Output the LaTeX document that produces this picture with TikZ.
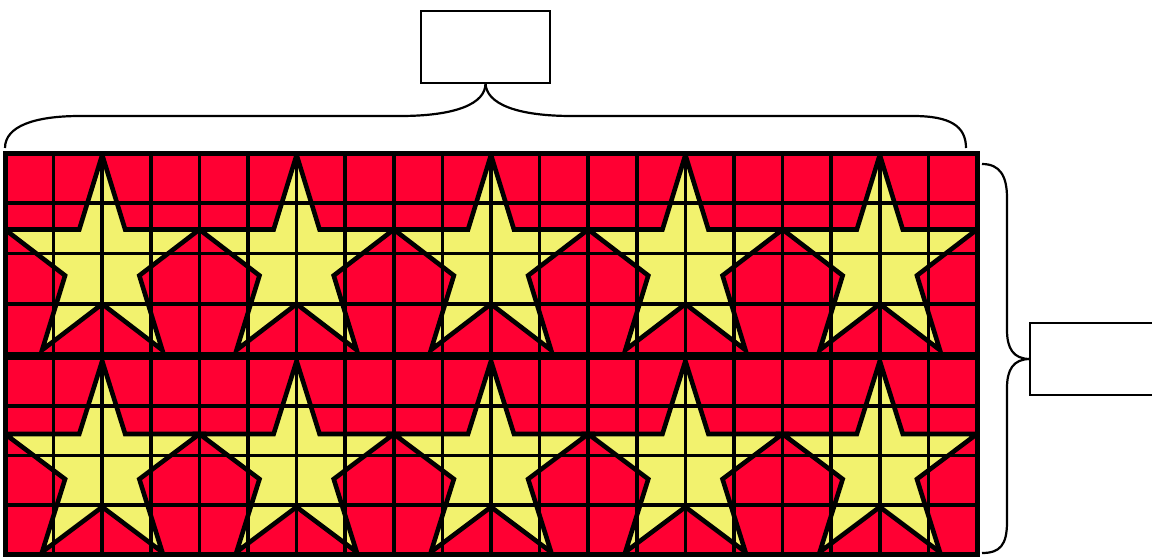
\documentclass[tikz,border=0pt]{standalone}
\definecolor{flagred}{RGB}{255,0,51}
\definecolor{staryellow}{RGB}{242,242,110}
\tikzset{
  gridline/.style={line width=3.6pt, black},
  staredge/.style={line width=4.6pt, black, line join=miter},
  bandborder/.style={line width=5pt, black},
  bracecurve/.style={line width=2.2pt, black},
  labelbox/.style={draw, line width=2.2pt, fill=white, minimum width=129pt, minimum height=72pt, inner sep=0pt, outer sep=0pt},
}
\begin{document}
\begin{tikzpicture}[x=1pt,y=-1pt]
\clip (0,0) rectangle (1152,558);
\foreach \ya/\yb/\cy/\R in {153/354/262.8/107.8pt, 357/554/466.6/105.6pt} {
  \begin{scope}
    \clip (5,\ya) rectangle (977,\yb);
    \fill[flagred] (5,\ya) rectangle (977,\yb);
    \foreach \k in {0,...,4} {
      \begin{scope}[shift={({102.2+194.4*\k},\cy)}, x=102.2pt, y=\R]
        \fill[staryellow] (90:1) -- (126:0.382) -- (162:1) -- (198:0.382) -- (234:1) -- (270:0.382) -- (306:1) -- (342:0.382) -- (18:1) -- (54:0.382) -- cycle;
      \end{scope}
    }
    \foreach \i in {1,...,19} \draw[gridline] ({5+48.6*\i},\ya) -- ({5+48.6*\i},\yb);
    \foreach \j in {1,2,3} \draw[gridline] (5,{\ya+(\yb-\ya)*\j/4}) -- (977,{\ya+(\yb-\ya)*\j/4});
    \foreach \k in {0,...,4} {
      \begin{scope}[shift={({102.2+194.4*\k},\cy)}, x=102.2pt, y=\R]
        \draw[staredge] (90:1) -- (126:0.382) -- (162:1) -- (198:0.382) -- (234:1) -- (270:0.382) -- (306:1) -- (342:0.382) -- (18:1) -- (54:0.382) -- cycle;
      \end{scope}
    }
  \end{scope}
  \draw[bandborder] (5,\ya) rectangle (977,\yb);
}
\node[labelbox] (topbox) at (485.5,47) {};
\node[labelbox, minimum width=140pt] (rightbox) at (1100,359) {};
\coordinate (tl) at (5,148);
\coordinate (tr) at (966,148);
\coordinate (rt) at (982,164);
\coordinate (rb) at (982,553);
\draw[bracecurve] (tl) .. controls (5,126) and (35,116) .. (80,116) -- (400,116) .. controls (455,116) and (486,104) .. (topbox.south);
\draw[bracecurve] (topbox.south) .. controls (486,104) and (517,116) .. (572,116) -- (913,116) .. controls (950,116) and (966,126) .. (tr);
\draw[bracecurve] (rt) .. controls (1000,164) and (1007,176) .. (1007,198) -- (1007,330) .. controls (1007,348) and (1013,359) .. (rightbox.west);
\draw[bracecurve] (rightbox.west) .. controls (1013,359) and (1007,370) .. (1007,388) -- (1007,522) .. controls (1007,545) and (1000,553) .. (rb);
\end{tikzpicture}
\end{document}
